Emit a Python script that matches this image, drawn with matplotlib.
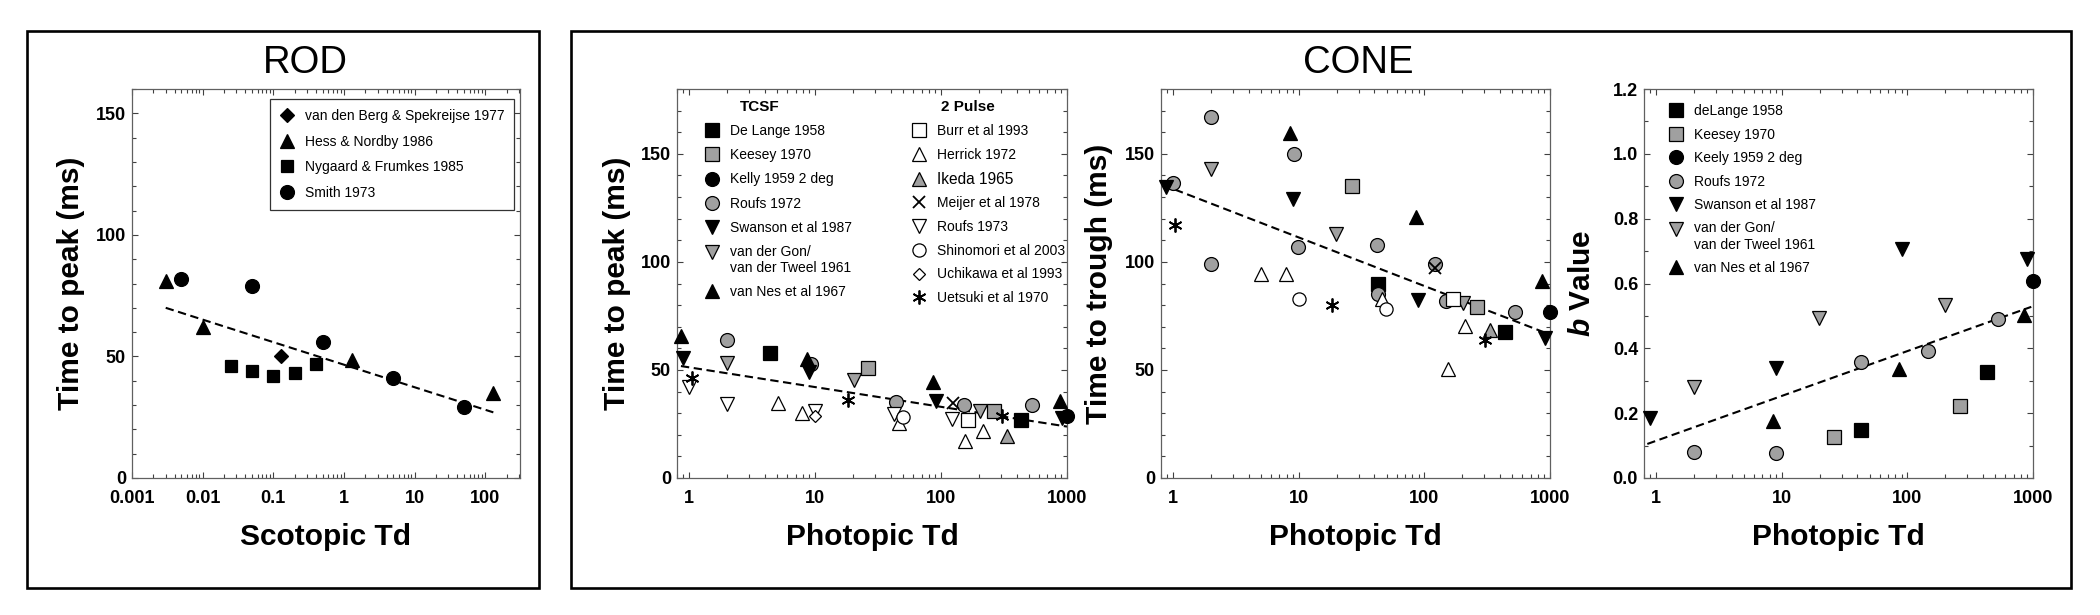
import numpy as np
import matplotlib
matplotlib.use("Agg")
import matplotlib.pyplot as plt
from matplotlib.patches import Rectangle
from matplotlib.lines import Line2D
from matplotlib.ticker import MultipleLocator, LogLocator, NullFormatter
from matplotlib.legend_handler import HandlerLine2D

plt.rcParams['font.family'] = ['Liberation Sans', 'DejaVu Sans']
plt.rcParams['mathtext.fontset'] = 'custom'
plt.rcParams['mathtext.it'] = 'Liberation Sans:italic:bold'
plt.rcParams['mathtext.rm'] = 'Liberation Sans:bold'
plt.rcParams['mathtext.bf'] = 'Liberation Sans:bold'

# ---------------- data ----------------
# ROD panel: scotopic Td vs time to peak (ms)
rod_berg_x = [0.13]
rod_berg_y = [50]
rod_hess_x = [0.003, 0.01, 1.3, 130]
rod_hess_y = [81, 62, 48.5, 35]
rod_nyg_x = [0.025, 0.05, 0.1, 0.2, 0.4]
rod_nyg_y = [46, 44, 42, 43, 47]
rod_smith_x = [0.005, 0.05, 0.5, 5, 50]
rod_smith_y = [82, 79, 56, 41, 29]
rod_fit_x = [0.003, 130]
rod_fit_y = [70, 27]
rod_labels = ["van den Berg & Spekreijse 1977", "Hess & Nordby 1986",
              "Nygaard & Frumkes 1985", "Smith 1973"]

# CONE panel: photopic Td vs time to peak (ms)
pk_delange_x = [4.35, 435]
pk_delange_y = [57.7, 26.9]
pk_keesey_x = [26.3, 263]
pk_keesey_y = [50.8, 31]
pk_kelly_x = [1000]
pk_kelly_y = [28.8]
pk_roufs72_x = [2.0, 9.3, 44, 152, 532]
pk_roufs72_y = [63.8, 52.8, 35, 33.8, 33.8]
pk_swanson_x = [0.9, 8.9, 91, 906]
pk_swanson_y = [55.7, 49.2, 35.4, 27.7]
pk_vdgon_x = [2.0, 20.4, 202]
pk_vdgon_y = [53, 45.4, 30.8]
pk_vannes_x = [0.86, 8.6, 87, 880]
pk_vannes_y = [65.7, 55, 44.6, 35.8]
pk_burr_x = [165]
pk_burr_y = [26.9]
pk_herrick_x = [5.07, 7.9, 46.5, 156, 214]
pk_herrick_y = [34.6, 30, 25.4, 16.9, 21.8]
pk_ikeda_x = [336]
pk_ikeda_y = [19.5]
pk_meijer_x = [124]
pk_meijer_y = [34.9]
pk_roufs73_x = [1.0, 2.0, 10, 42.5, 122]
pk_roufs73_y = [42.3, 34.2, 30.8, 29.5, 27.2]
pk_shinomori_x = [49.5]
pk_shinomori_y = [28]
pk_uchikawa_x = [10]
pk_uchikawa_y = [28.8]
pk_uetsuki_x = [1.06, 18.2, 305]
pk_uetsuki_y = [46.2, 36.2, 28.8]
pk_fit_x = [0.86, 1000]
pk_fit_y = [51.8, 23.8]

# CONE panel: photopic Td vs time to trough (ms)
tr_delange_x = [43, 435]
tr_delange_y = [90, 67.7]
tr_keesey_x = [26.3, 262]
tr_keesey_y = [134.9, 78.9]
tr_kelly_x = [1000]
tr_kelly_y = [76.9]
tr_roufs72_x = [1.0, 2.0, 2.0, 9.2, 9.8, 42, 43, 122, 149, 529]
tr_roufs72_y = [136.6, 166.9, 98.9, 149.7, 106.9, 108, 85, 98.9, 82, 76.9]
tr_swanson_x = [0.88, 9.0, 89.6, 918]
tr_swanson_y = [134.6, 129, 82.3, 64.6]
tr_vdgon_x = [2.0, 19.7, 202]
tr_vdgon_y = [143, 113, 81]
tr_vannes_x = [8.5, 86, 863]
tr_vannes_y = [159.5, 120.8, 91.2]
tr_burr_x = [170]
tr_burr_y = [82.6]
tr_herrick_x = [4.98, 7.9, 45.6, 153, 211]
tr_herrick_y = [94.3, 94.3, 82.6, 50.3, 70.3]
tr_ikeda_x = [334]
tr_ikeda_y = [68.5]
tr_meijer_x = [122]
tr_meijer_y = [97.4]
tr_shinomori_x = [10, 49.5]
tr_shinomori_y = [82.8, 78]
tr_uetsuki_x = [1.04, 18.3, 305]
tr_uetsuki_y = [117, 80, 63.8]
tr_fit_x = [0.83, 918]
tr_fit_y = [135.6, 67.2]

# b value panel
bv_delange_x = [43, 432]
bv_delange_y = [0.149, 0.326]
bv_keesey_x = [25.9, 260]
bv_keesey_y = [0.125, 0.221]
bv_kelly_x = [1000]
bv_kelly_y = [0.607]
bv_roufs72_x = [2.0, 9.0, 43, 147, 528]
bv_roufs72_y = [0.079, 0.077, 0.359, 0.392, 0.489]
bv_swanson_x = [0.89, 9.0, 90, 904]
bv_swanson_y = [0.185, 0.338, 0.705, 0.675]
bv_vdgon_x = [2.0, 19.9, 200]
bv_vdgon_y = [0.282, 0.495, 0.535]
bv_vannes_x = [8.5, 86, 852]
bv_vannes_y = [0.176, 0.335, 0.503]
bv_fit_x = [0.85, 969]
bv_fit_y = [0.105, 0.528]

tcsf_labels = ["De Lange 1958", "Keesey 1970", "Kelly 1959 2 deg", "Roufs 1972",
               "Swanson et al 1987", "van der Gon/\nvan der Tweel 1961", "van Nes et al 1967"]
pulse_labels = ["Burr et al 1993", "Herrick 1972", "Ikeda 1965", "Meijer et al 1978",
                "Roufs 1973", "Shinomori et al 2003", "Uchikawa et al 1993", "Uetsuki et al 1970"]
b_labels = ["deLange 1958", "Keesey 1970", "Keely 1959 2 deg", "Roufs 1972",
            "Swanson et al 1987", "van der Gon/\nvan der Tweel 1961", "van Nes et al 1967"]

# ---------------- styles ----------------
GRAY = '#a0a0a0'
STY = {
    'delange':   dict(marker='s', mfc='black', ms=9.5),
    'keesey':    dict(marker='s', mfc=GRAY, ms=9.5),
    'kelly':     dict(marker='o', mfc='black', ms=10),
    'roufs72':   dict(marker='o', mfc=GRAY, ms=10),
    'swanson':   dict(marker='v', mfc='black', ms=10),
    'vdgon':     dict(marker='v', mfc=GRAY, ms=10.5),
    'vannes':    dict(marker='^', mfc='black', ms=10),
    'burr':      dict(marker='s', mfc='white', ms=9.5),
    'herrick':   dict(marker='^', mfc='white', ms=10.5),
    'ikeda':     dict(marker='^', mfc=GRAY, ms=10.5),
    'meijer':    dict(marker='x', mfc='none', ms=9, mew=1.3),
    'roufs73':   dict(marker='v', mfc='white', ms=10.5),
    'shinomori': dict(marker='o', mfc='white', ms=9.5),
    'uchikawa':  dict(marker='D', mfc='white', ms=6.5),
    'uetsuki':   dict(marker=(6, 2, 0), mfc='black', ms=10, mew=1.3),
    'berg':      dict(marker='D', mfc='black', ms=6.8),
    'hess':      dict(marker='^', mfc='black', ms=9.5),
    'nyg':       dict(marker='s', mfc='black', ms=8.5),
    'smith':     dict(marker='o', mfc='black', ms=10),
}


def kw(key):
    s = dict(STY[key])
    s.setdefault('mew', 0.9)
    s['mec'] = 'black'
    return s


def plot_pts(ax, x, y, key):
    ax.plot(x, y, ls='none', zorder=3, clip_on=False, **kw(key))


def handle(key):
    return Line2D([], [], ls='none', **kw(key))


def plot_fit(ax, x, y):
    ax.plot(x, y, color='black', lw=1.5, ls=(0, (4, 2.2)), zorder=2)


class HandlerUp(HandlerLine2D):
    def __init__(self, dy, **k):
        super().__init__(**k)
        self.dy = dy

    def create_artists(self, legend, orig_handle, xdescent, ydescent, width,
                       height, fontsize, trans):
        arts = super().create_artists(legend, orig_handle, xdescent, ydescent,
                                      width, height, fontsize, trans)
        for a in arts:
            a.set_ydata(np.asarray(a.get_ydata()) + self.dy * fontsize)
        return arts


W, H = 2100, 615
fig = plt.figure(figsize=(W / 100, H / 100), dpi=100)


def axrect(l, r, t, b):
    return [l / W, 1 - b / H, (r - l) / W, (b - t) / H]


def box(l, r, t, b):
    fig.add_artist(Rectangle((l / W, 1 - b / H), (r - l) / W, (b - t) / H,
                             transform=fig.transFigure, fill=False,
                             ec='black', lw=1.9))


box(27, 539, 31, 588)
box(571, 2071, 31, 588)

ax_rod = fig.add_axes(axrect(132, 520, 89, 478))
ax_pk = fig.add_axes(axrect(677, 1067, 89, 478))
ax_tr = fig.add_axes(axrect(1161, 1550, 89, 478))
ax_b = fig.add_axes(axrect(1644, 2033, 89, 478))

TICKFS = 13
LABFS = 21.5


def style_axes(ax, xlim, xticks, xlabels, ylim, yticks, ylabels, ymin, xlab, ylab, ylx):
    ax.set_xscale('log')
    ax.set_xlim(*xlim)
    ax.set_ylim(*ylim)
    ax.set_xticks(xticks, labels=xlabels, fontsize=TICKFS, fontweight='bold')
    ax.set_yticks(yticks, labels=ylabels, fontsize=TICKFS, fontweight='bold')
    ax.xaxis.set_minor_locator(LogLocator(base=10, subs=np.arange(2, 10)))
    ax.xaxis.set_minor_formatter(NullFormatter())
    ax.yaxis.set_minor_locator(MultipleLocator(ymin))
    for s in ax.spines.values():
        s.set_color('#606060')
        s.set_linewidth(0.9)
    ax.tick_params(which='both', direction='in', top=True, right=True,
                   color='#404040', width=0.8)
    ax.tick_params(which='major', length=4.5)
    ax.tick_params(which='minor', length=3)
    ax.tick_params(axis='x', which='major', pad=8.5)
    ax.tick_params(axis='y', which='major', pad=4.3)
    ax.set_xlabel(xlab, fontsize=LABFS, fontweight='bold', va='baseline')
    ax.xaxis.set_label_coords(0.5, -(545 - 478) / 390)
    ax.set_ylabel(ylab, fontsize=LABFS, fontweight='bold', va='center')
    ax.yaxis.set_label_coords(ylx, 0.5)


ph_ticks = [1, 10, 100, 1000]
ph_labels = ['1', '10', '100', '1000']

# ---------------- ROD ----------------
plot_fit(ax_rod, rod_fit_x, rod_fit_y)
plot_pts(ax_rod, rod_berg_x, rod_berg_y, 'berg')
plot_pts(ax_rod, rod_hess_x, rod_hess_y, 'hess')
plot_pts(ax_rod, rod_nyg_x, rod_nyg_y, 'nyg')
plot_pts(ax_rod, rod_smith_x, rod_smith_y, 'smith')
style_axes(ax_rod, (0.001, 310), [0.001, 0.01, 0.1, 1, 10, 100],
           ['0.001', '0.01', '0.1', '1', '10', '100'],
           (0, 160), [0, 50, 100, 150], ['0', '50', '100', '150'], 10,
           'Scotopic Td', 'Time to peak (ms)', -(132 - 71) / 388)
leg = ax_rod.legend([handle(k) for k in ['berg', 'hess', 'nyg', 'smith']], rod_labels,
                    loc='upper left', bbox_to_anchor=((269.6 - 132) / 388, (478 - 99) / 389),
                    borderaxespad=0, borderpad=0.72, labelspacing=0.83, handlelength=1.0,
                    handletextpad=0.8, numpoints=1, fontsize=10, frameon=True,
                    fancybox=False, edgecolor='#333333', framealpha=1)
leg.get_frame().set_linewidth(0.9)

# ---------------- CONE: time to peak ----------------
plot_fit(ax_pk, pk_fit_x, pk_fit_y)
plot_pts(ax_pk, pk_delange_x, pk_delange_y, 'delange')
plot_pts(ax_pk, pk_keesey_x, pk_keesey_y, 'keesey')
plot_pts(ax_pk, pk_roufs72_x, pk_roufs72_y, 'roufs72')
plot_pts(ax_pk, pk_swanson_x, pk_swanson_y, 'swanson')
plot_pts(ax_pk, pk_vdgon_x, pk_vdgon_y, 'vdgon')
plot_pts(ax_pk, pk_vannes_x, pk_vannes_y, 'vannes')
plot_pts(ax_pk, pk_burr_x, pk_burr_y, 'burr')
plot_pts(ax_pk, pk_herrick_x, pk_herrick_y, 'herrick')
plot_pts(ax_pk, pk_ikeda_x, pk_ikeda_y, 'ikeda')
plot_pts(ax_pk, pk_meijer_x, pk_meijer_y, 'meijer')
plot_pts(ax_pk, pk_roufs73_x, pk_roufs73_y, 'roufs73')
plot_pts(ax_pk, pk_shinomori_x, pk_shinomori_y, 'shinomori')
plot_pts(ax_pk, pk_uchikawa_x, pk_uchikawa_y, 'uchikawa')
plot_pts(ax_pk, pk_uetsuki_x, pk_uetsuki_y, 'uetsuki')
plot_pts(ax_pk, pk_kelly_x, pk_kelly_y, 'kelly')
style_axes(ax_pk, (0.8, 1000), ph_ticks, ph_labels,
           (0, 180), [0, 50, 100, 150], ['0', '50', '100', '150'], 10,
           'Photopic Td', 'Time to peak (ms)', -(677 - 617) / 390)

tcsf_keys = ['delange', 'keesey', 'kelly', 'roufs72', 'swanson', 'vdgon', 'vannes']
tcsf_handles = [handle(k) for k in tcsf_keys]
hmap = {tcsf_handles[5]: HandlerUp(0.62)}
leg1 = ax_pk.legend(tcsf_handles, tcsf_labels, loc='upper left',
                    bbox_to_anchor=((705 - 677) / 390, (478 - 123.2) / 390),
                    borderaxespad=0, borderpad=0, labelspacing=0.73, handlelength=1.0,
                    handletextpad=0.8, numpoints=1, fontsize=10, frameon=False,
                    handler_map=hmap)
ax_pk.add_artist(leg1)
pulse_keys = ['burr', 'herrick', 'ikeda', 'meijer', 'roufs73', 'shinomori', 'uchikawa', 'uetsuki']
leg2 = ax_pk.legend([handle(k) for k in pulse_keys], pulse_labels, loc='upper left',
                    bbox_to_anchor=((912 - 677) / 390, (478 - 123.2) / 390),
                    borderaxespad=0, borderpad=0, labelspacing=0.70, handlelength=1.0,
                    handletextpad=0.8, numpoints=1, fontsize=10, frameon=False)
leg2.get_texts()[2].set_fontsize(11.2)
ax_pk.text((760 - 677) / 390, (478 - 110.5) / 390, 'TCSF', transform=ax_pk.transAxes,
           ha='center', va='baseline', fontsize=11, fontweight='bold')
ax_pk.text((968 - 677) / 390, (478 - 110.5) / 390, '2 Pulse', transform=ax_pk.transAxes,
           ha='center', va='baseline', fontsize=11, fontweight='bold')

# ---------------- CONE: time to trough ----------------
plot_fit(ax_tr, tr_fit_x, tr_fit_y)
plot_pts(ax_tr, tr_delange_x, tr_delange_y, 'delange')
plot_pts(ax_tr, tr_keesey_x, tr_keesey_y, 'keesey')
plot_pts(ax_tr, tr_roufs72_x, tr_roufs72_y, 'roufs72')
plot_pts(ax_tr, tr_swanson_x, tr_swanson_y, 'swanson')
plot_pts(ax_tr, tr_vdgon_x, tr_vdgon_y, 'vdgon')
plot_pts(ax_tr, tr_vannes_x, tr_vannes_y, 'vannes')
plot_pts(ax_tr, tr_burr_x, tr_burr_y, 'burr')
plot_pts(ax_tr, tr_herrick_x, tr_herrick_y, 'herrick')
plot_pts(ax_tr, tr_ikeda_x, tr_ikeda_y, 'ikeda')
plot_pts(ax_tr, tr_meijer_x, tr_meijer_y, 'meijer')
plot_pts(ax_tr, tr_shinomori_x, tr_shinomori_y, 'shinomori')
plot_pts(ax_tr, tr_uetsuki_x, tr_uetsuki_y, 'uetsuki')
plot_pts(ax_tr, tr_kelly_x, tr_kelly_y, 'kelly')
style_axes(ax_tr, (0.8, 1000), ph_ticks, ph_labels,
           (0, 180), [0, 50, 100, 150], ['0', '50', '100', '150'], 10,
           'Photopic Td', 'Time to trough (ms)', -(1161 - 1099) / 389)

# ---------------- b value ----------------
plot_fit(ax_b, bv_fit_x, bv_fit_y)
plot_pts(ax_b, bv_delange_x, bv_delange_y, 'delange')
plot_pts(ax_b, bv_keesey_x, bv_keesey_y, 'keesey')
plot_pts(ax_b, bv_roufs72_x, bv_roufs72_y, 'roufs72')
plot_pts(ax_b, bv_swanson_x, bv_swanson_y, 'swanson')
plot_pts(ax_b, bv_vdgon_x, bv_vdgon_y, 'vdgon')
plot_pts(ax_b, bv_vannes_x, bv_vannes_y, 'vannes')
plot_pts(ax_b, bv_kelly_x, bv_kelly_y, 'kelly')
bt = [0, 0.2, 0.4, 0.6, 0.8, 1.0, 1.2]
style_axes(ax_b, (0.8, 1000), ph_ticks, ph_labels,
           (0, 1.2), bt, ['%.1f' % v for v in bt], 0.1,
           'Photopic Td', r'$b$ Value', -(1644 - 1582) / 389)
b_handles = [handle(k) for k in tcsf_keys]
leg3 = ax_b.legend(b_handles, b_labels, loc='upper left',
                   bbox_to_anchor=((1669.5 - 1644) / 389, (478 - 103.3) / 390),
                   borderaxespad=0, borderpad=0, labelspacing=0.68, handlelength=1.0,
                   handletextpad=0.8, numpoints=1, fontsize=10, frameon=False,
                   handler_map={b_handles[5]: HandlerUp(0.62)})

# ---------------- titles ----------------
fig.text(305.5 / W, 1 - 73 / H, 'ROD', ha='center', va='baseline', fontsize=27.5)
fig.text(1358 / W, 1 - 73 / H, 'CONE', ha='center', va='baseline', fontsize=27.5)

fig.savefig('out.png', dpi=100)
